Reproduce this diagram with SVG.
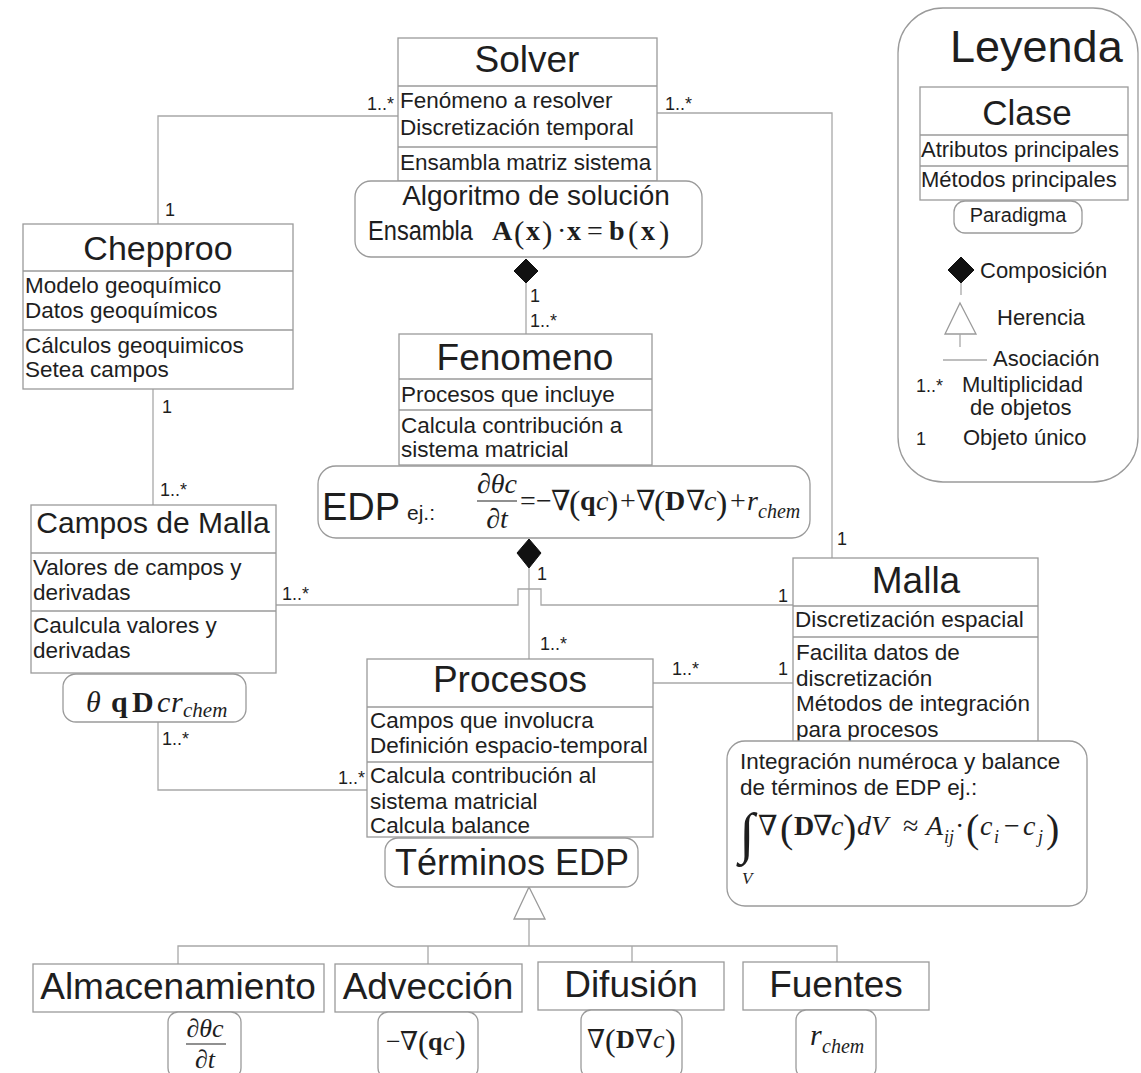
<svg xmlns="http://www.w3.org/2000/svg" width="1141" height="1073" viewBox="0 0 1141 1073">
<style>
text{font-family:"Liberation Sans",Arial,sans-serif;fill:#1e1e1e}
.box{fill:#fff;stroke:#9a9a9a;stroke-width:1.3}
.rbox{fill:#fff;stroke:#9a9a9a;stroke-width:1.3}
.sep{stroke:#9a9a9a;stroke-width:1.3}
.ln{fill:none;stroke:#a8a8a8;stroke-width:1.3}
.ti{font-size:37px;text-anchor:middle}
.at{font-size:22.5px}
.mu{font-size:18px}
.lg{font-size:22px}
.m{font-family:"Liberation Serif","DejaVu Serif",serif;font-size:28px}
.mi{font-style:italic}
.mb{font-weight:bold}
.dia{fill:#111;stroke:#111;stroke-width:1}
.tri{fill:#fff;stroke:#9a9a9a;stroke-width:1.3}
.bar{stroke:#222;stroke-width:1.2}
</style>
<rect width="1141" height="1073" fill="#fff"/>

<g id="connectors">
  <polyline class="ln" points="398,116 158,116 158,224"/>
  <polyline class="ln" points="657,113 832,113 832,558"/>
  <line class="ln" x1="526" y1="283" x2="526" y2="334"/>
  <polygon class="dia" points="526,259 538,271 526,283 514,271"/>
  <line class="ln" x1="153" y1="389" x2="153" y2="505"/>
  <line class="ln" x1="529" y1="568" x2="529" y2="659"/>
  <polygon class="dia" points="529,539 541,553 529,568 517,553"/>
  <polyline class="ln" points="276,605 518,605 518,589 541,589 541,605 793,605"/>
  <line class="ln" x1="653" y1="683" x2="793" y2="683"/>
  <polyline class="ln" points="158,722 158,790 367,790"/>
  <line class="ln" x1="529" y1="919" x2="529" y2="946"/>
  <polygon class="tri" points="529,887 545,919 514,919"/>
  <polyline class="ln" points="178,964 178,946 837,946 837,962"/>
  <line class="ln" x1="428" y1="946" x2="428" y2="964"/>
  <line class="ln" x1="632" y1="946" x2="632" y2="962"/>
  <g class="mu">
    <text x="367" y="110">1..*</text>
    <text x="665" y="110">1..*</text>
    <text x="165" y="216">1</text>
    <text x="837" y="545">1</text>
    <text x="530" y="302">1</text>
    <text x="530" y="327">1..*</text>
    <text x="162" y="413">1</text>
    <text x="160" y="496">1..*</text>
    <text x="282" y="600">1..*</text>
    <text x="537" y="580">1</text>
    <text x="778" y="602">1</text>
    <text x="540" y="650">1..*</text>
    <text x="672" y="675">1..*</text>
    <text x="778" y="675">1</text>
    <text x="162" y="745">1..*</text>
    <text x="338" y="784">1..*</text>
  </g>
</g>

<g id="solver">
  <rect class="box" x="398" y="38" width="259" height="143"/>
  <line class="sep" x1="398" y1="86" x2="657" y2="86"/>
  <line class="sep" x1="398" y1="147" x2="657" y2="147"/>
  <text class="ti" x="527" y="72">Solver</text>
  <text class="at" x="400" y="108">Fenómeno a resolver</text>
  <text class="at" x="400" y="135">Discretización temporal</text>
  <text class="at" x="400" y="170">Ensambla matriz sistema</text>
</g>

<g id="algoritmo">
  <rect class="rbox" x="355" y="181" width="347" height="76" rx="16"/>
  <text x="536" y="205" style="font-size:28px" text-anchor="middle">Algoritmo de solución</text>
  <text x="368" y="240" style="font-size:27px" textLength="105" lengthAdjust="spacingAndGlyphs">Ensambla</text>
  <text class="m" y="240"><tspan class="mb" x="492">A</tspan><tspan x="514" style="font-size:31px" y="243">(</tspan><tspan class="mb" x="526" y="240">x</tspan><tspan x="542" style="font-size:31px" y="243">)</tspan><tspan x="557" y="240">·</tspan><tspan class="mb" x="567">x</tspan><tspan x="587">=</tspan><tspan class="mb" x="609">b</tspan><tspan x="628" style="font-size:31px" y="243">(</tspan><tspan class="mb" x="641" y="240">x</tspan><tspan x="659" style="font-size:31px" y="243">)</tspan></text>
</g>

<g id="chepproo">
  <rect class="box" x="23" y="224" width="270" height="165"/>
  <line class="sep" x1="23" y1="271" x2="293" y2="271"/>
  <line class="sep" x1="23" y1="330" x2="293" y2="330"/>
  <text class="ti" x="158" y="260" style="font-size:34px">Chepproo</text>
  <text class="at" x="25" y="293">Modelo geoquímico</text>
  <text class="at" x="25" y="318">Datos geoquímicos</text>
  <text class="at" x="25" y="353">Cálculos geoquimicos</text>
  <text class="at" x="25" y="377">Setea campos</text>
</g>

<g id="fenomeno">
  <rect class="box" x="399" y="334" width="253" height="131"/>
  <line class="sep" x1="399" y1="379" x2="652" y2="379"/>
  <line class="sep" x1="399" y1="410" x2="652" y2="410"/>
  <text class="ti" x="525" y="370">Fenomeno</text>
  <text class="at" x="401" y="402">Procesos que incluye</text>
  <text class="at" x="401" y="433">Calcula contribución a</text>
  <text class="at" x="401" y="457">sistema matricial</text>
</g>

<g id="edp">
  <rect class="rbox" x="318" y="466" width="492" height="72" rx="18"/>
  <text x="322" y="520" style="font-size:38px">EDP</text>
  <text x="407" y="520" style="font-size:21px">ej.:</text>
  <text class="m mi" x="497" y="493" text-anchor="middle" style="font-size:28px">∂θc</text>
  <line class="bar" x1="477" y1="501" x2="517" y2="501"/>
  <text class="m mi" x="497" y="528" text-anchor="middle" style="font-size:28px">∂t</text>
  <text class="m" y="510"><tspan x="520">=</tspan><tspan x="536">−</tspan><tspan x="551">∇</tspan><tspan x="569" style="font-size:34px" y="514">(</tspan><tspan class="mb" x="580" y="510">q</tspan><tspan class="mi" x="596">c</tspan><tspan x="607" style="font-size:34px" y="514">)</tspan><tspan x="620" y="510">+</tspan><tspan x="636">∇</tspan><tspan x="654" style="font-size:34px" y="514">(</tspan><tspan class="mb" x="665" y="510">D</tspan><tspan x="686">∇</tspan><tspan class="mi" x="704">c</tspan><tspan x="716" style="font-size:34px" y="514">)</tspan><tspan x="730" y="510">+</tspan><tspan class="mi" x="747">r</tspan><tspan class="mi" x="758" y="518" style="font-size:20px">chem</tspan></text>
</g>

<g id="campos-de-malla">
  <rect class="box" x="31" y="505" width="245" height="168"/>
  <line class="sep" x1="31" y1="553" x2="276" y2="553"/>
  <line class="sep" x1="31" y1="611" x2="276" y2="611"/>
  <text class="ti" x="153" y="533" style="font-size:30px">Campos de Malla</text>
  <text class="at" x="33" y="575">Valores de campos y</text>
  <text class="at" x="33" y="600">derivadas</text>
  <text class="at" x="33" y="633">Caulcula valores y</text>
  <text class="at" x="33" y="658">derivadas</text>
</g>

<g id="campos-variables">
  <rect class="rbox" x="63" y="674" width="183" height="48" rx="13"/>
  <text class="m" y="712" style="font-size:30px"><tspan class="mi" x="86">θ</tspan><tspan class="mb" x="111">q</tspan><tspan class="mb" x="132">D</tspan><tspan class="mi" x="157">c</tspan><tspan class="mi" x="171">r</tspan><tspan class="mi" x="183" y="717" style="font-size:21px">chem</tspan></text>
</g>

<g id="procesos">
  <rect class="box" x="367" y="659" width="286" height="178"/>
  <line class="sep" x1="367" y1="707" x2="653" y2="707"/>
  <line class="sep" x1="367" y1="762" x2="653" y2="762"/>
  <text class="ti" x="510" y="692">Procesos</text>
  <text class="at" x="370" y="728">Campos que involucra</text>
  <text class="at" x="370" y="753">Definición espacio-temporal</text>
  <text class="at" x="370" y="783">Calcula contribución al</text>
  <text class="at" x="370" y="809">sistema matricial</text>
  <text class="at" x="370" y="833">Calcula balance</text>
</g>

<g id="terminos-edp">
  <rect class="rbox" x="385" y="838" width="253" height="49" rx="13"/>
  <text class="ti" x="512" y="875" style="font-size:36px">Términos EDP</text>
</g>

<g id="malla">
  <rect class="box" x="793" y="558" width="245" height="184"/>
  <line class="sep" x1="793" y1="606" x2="1038" y2="606"/>
  <line class="sep" x1="793" y1="637" x2="1038" y2="637"/>
  <text class="ti" x="916" y="593">Malla</text>
  <text class="at" x="795" y="627">Discretización espacial</text>
  <text class="at" x="796" y="660">Facilita datos de</text>
  <text class="at" x="796" y="686">discretización</text>
  <text class="at" x="796" y="711">Métodos de integración</text>
  <text class="at" x="796" y="737">para procesos</text>
</g>

<g id="integracion">
  <rect class="rbox" x="727" y="741" width="360" height="165" rx="18"/>
  <text class="at" x="740" y="769">Integración numéroca y balance</text>
  <text class="at" x="740" y="795">de términos de EDP ej.:</text>
  <text class="m" y="835"><tspan x="739" style="font-size:56px" y="852">∫</tspan><tspan x="758" y="835">∇</tspan><tspan x="780" style="font-size:40px" y="842">(</tspan><tspan class="mb" x="794" y="835">D</tspan><tspan x="813">∇</tspan><tspan class="mi" x="831">c</tspan><tspan x="843" style="font-size:40px" y="842">)</tspan><tspan class="mi" x="857" y="835">d</tspan><tspan class="mi" x="871">V</tspan><tspan x="903">≈</tspan><tspan class="mi" x="926">A</tspan><tspan class="mi" x="944" y="843" style="font-size:18px">ij</tspan><tspan x="955" y="835">·</tspan><tspan x="966" style="font-size:40px" y="842">(</tspan><tspan class="mi" x="980" y="835">c</tspan><tspan class="mi" x="994" y="843" style="font-size:18px">i</tspan><tspan x="1004" y="835">−</tspan><tspan class="mi" x="1023">c</tspan><tspan class="mi" x="1038" y="843" style="font-size:18px">j</tspan><tspan x="1046" style="font-size:40px" y="842">)</tspan></text>
  <text class="m mi" x="742" y="884" style="font-size:17px">V</text>
</g>

<g id="almacenamiento">
  <rect class="box" x="33" y="964" width="291" height="48"/>
  <text class="ti" x="178" y="999" style="font-size:37px">Almacenamiento</text>
  <rect class="rbox" x="168" y="1012" width="73" height="66" rx="10"/>
  <text class="m mi" x="205" y="1037" text-anchor="middle" style="font-size:26px">∂θc</text>
  <line class="bar" x1="186" y1="1044" x2="226" y2="1044"/>
  <text class="m mi" x="205" y="1068" text-anchor="middle" style="font-size:26px">∂t</text>
</g>

<g id="adveccion">
  <rect class="box" x="335" y="964" width="187" height="48"/>
  <text class="ti" x="428" y="999">Advección</text>
  <rect class="rbox" x="378" y="1012" width="100" height="66" rx="10"/>
  <text class="m" y="1050" style="font-size:26px"><tspan x="386">−</tspan><tspan x="400">∇</tspan><tspan x="418" style="font-size:32px" y="1053">(</tspan><tspan class="mb" x="428" y="1050">q</tspan><tspan class="mi" x="443">c</tspan><tspan x="455" style="font-size:32px" y="1053">)</tspan></text>
</g>

<g id="difusion">
  <rect class="box" x="538" y="962" width="186" height="48"/>
  <text class="ti" x="631" y="997">Difusión</text>
  <rect class="rbox" x="581" y="1010" width="101" height="68" rx="10"/>
  <text class="m" y="1048" style="font-size:26px"><tspan x="587">∇</tspan><tspan x="605" style="font-size:32px" y="1051">(</tspan><tspan class="mb" x="616" y="1048">D</tspan><tspan x="635">∇</tspan><tspan class="mi" x="653">c</tspan><tspan x="665" style="font-size:32px" y="1051">)</tspan></text>
</g>

<g id="fuentes">
  <rect class="box" x="743" y="962" width="186" height="48"/>
  <text class="ti" x="836" y="997">Fuentes</text>
  <rect class="rbox" x="796" y="1010" width="80" height="68" rx="10"/>
  <text class="m" y="1045" style="font-size:30px"><tspan class="mi" x="810">r</tspan><tspan class="mi" x="822" y="1053" style="font-size:20px">chem</tspan></text>
</g>

<g id="leyenda">
  <rect class="rbox" x="898" y="8" width="240" height="474" rx="45"/>
  <text x="950" y="62" style="font-size:45px">Leyenda</text>
  <rect class="box" x="920" y="87" width="208" height="113"/>
  <line class="sep" x1="920" y1="135" x2="1128" y2="135"/>
  <line class="sep" x1="920" y1="166" x2="1128" y2="166"/>
  <text class="ti" x="1027" y="125" style="font-size:35px">Clase</text>
  <text class="lg" x="921" y="157">Atributos principales</text>
  <text class="lg" x="921" y="187">Métodos principales</text>
  <rect class="rbox" x="954" y="201" width="128" height="32" rx="11"/>
  <text x="1018" y="222" style="font-size:20px" text-anchor="middle">Paradigma</text>
  <polygon class="dia" points="961,257 974,270 961,283 948,270"/>
  <line class="ln" x1="961" y1="283" x2="961" y2="295"/>
  <text class="lg" x="980" y="278">Composición</text>
  <polygon class="tri" points="960,303 976,334 945,334"/>
  <line class="ln" x1="960" y1="334" x2="960" y2="347"/>
  <text class="lg" x="997" y="325">Herencia</text>
  <line class="ln" x1="943" y1="360" x2="987" y2="360"/>
  <text class="lg" x="993" y="366">Asociación</text>
  <text class="mu" x="916" y="392">1..*</text>
  <text class="lg" x="962" y="392">Multiplicidad</text>
  <text class="lg" x="970" y="415">de objetos</text>
  <text class="mu" x="916" y="445">1</text>
  <text class="lg" x="963" y="445">Objeto único</text>
</g>
</svg>
